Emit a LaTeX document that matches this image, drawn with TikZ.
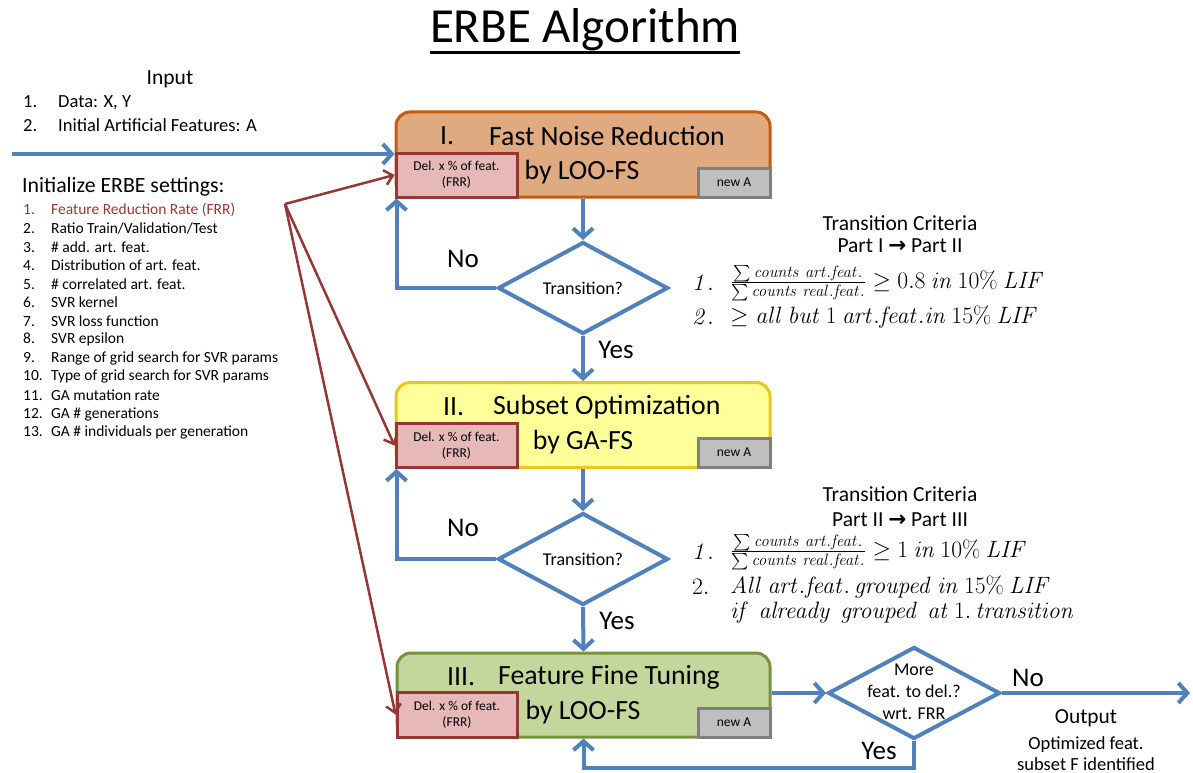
\documentclass[tikz,border=0pt]{standalone}
\usepackage{amsmath}
\usepackage[no-math]{fontspec}
\setmainfont{Carlito}
\newfontfamily\arrowfont{DejaVu Sans}
\usetikzlibrary{arrows.meta,shapes.geometric}
\definecolor{flowblue}{HTML}{4F81BD}
\definecolor{darkred}{HTML}{953735}
\definecolor{redfill}{HTML}{E6B9B8}
\definecolor{grayfill}{HTML}{BFBFBF}
\definecolor{grayborder}{HTML}{7F7F7F}
\definecolor{orfill}{HTML}{E0AA80}
\definecolor{orborder}{HTML}{C55A11}
\definecolor{yefill}{HTML}{FFFF99}
\definecolor{yeborder}{HTML}{E6C81E}
\definecolor{grfill}{HTML}{C3D69B}
\definecolor{grborder}{HTML}{77933C}
\newcommand\fsz[2]{\fontsize{#1}{#2}\selectfont}
\newcommand\deltext{\raisebox{-5pt}{\shortstack{Del. x \% of feat.\\[3.5pt](FRR)}}}
\tikzset{
  flow/.style={draw=flowblue, line width=4pt, -{Straight Barb[length=9pt,width=20pt]}},
  redarr/.style={draw=darkred, line width=2.5pt, -{Straight Barb[length=8pt,width=15pt]}},
  stage/.style={draw, line width=3pt, rounded corners=14pt, minimum width=374pt, minimum height=85pt, inner sep=0pt},
  delbox/.style={draw=darkred, fill=redfill, line width=3pt, minimum width=121pt, minimum height=44pt, inner sep=0pt, align=center, font=\fsz{13.5}{16}},
  newabox/.style={draw=grayborder, fill=grayfill, line width=3pt, minimum width=72pt, minimum height=29pt, inner sep=0pt, font=\fsz{13.5}{16}},
  decision/.style={diamond, aspect=1.85, draw=flowblue, line width=4pt, fill=white, inner sep=0pt, minimum width=170pt, minimum height=92pt},
  dtext/.style={inner sep=0pt, align=center, font=\fsz{18}{22}},
  boxtitle/.style={anchor=west, inner sep=0pt, font=\fsz{27.8}{30}},
  boxsub/.style={inner sep=0pt, font=\fsz{27.8}{30}},
  lbl/.style={inner sep=0pt, font=\fsz{27}{30}},
  listitem/.style={anchor=west, inner sep=0pt, font=\fsz{15.5}{18}},
  crit/.style={inner sep=0pt, font=\fsz{21.5}{24}},
  mathline/.style={anchor=west, inner sep=0pt, font=\fsz{20}{24}, scale=1.14}
}
\begin{document}
\begin{tikzpicture}[x=1pt,y=-1pt]
\useasboundingbox (0,0) rectangle (1193,773);

% title
\node[inner sep=0pt, font=\fsz{49}{52}] (title) at (585,30) {ERBE Algorithm};
\draw[line width=3pt] ([yshift=-1pt]title.south west) -- ([yshift=-1pt]title.south east);

% input
\node[inner sep=0pt, font=\fsz{21.5}{24}] (input) at (170,79) {Input};
\node[listitem, font=\fsz{18.5}{20}] (in1) at (23,103) {\makebox[35pt][l]{1.}Data: X, Y};
\node[listitem, font=\fsz{18.5}{20}] (in2) at (23,125) {\makebox[35pt][l]{2.}Initial Artificial Features: A};

% settings
\node[anchor=west, inner sep=0pt, font=\fsz{21.8}{24}] (init) at (22,187) {Initialize ERBE settings:};
\node[listitem, text=darkred] (s1) at (23,209.5) {\makebox[28pt][l]{1.}Feature Reduction Rate (FRR)};
\node[listitem] (s2) at (23,228.1) {\makebox[28pt][l]{2.}Ratio Train/Validation/Test};
\node[listitem] (s3) at (23,246.7) {\makebox[28pt][l]{3.}\# add. art. feat.};
\node[listitem] (s4) at (23,265.3) {\makebox[28pt][l]{4.}Distribution of art. feat.};
\node[listitem] (s5) at (23,283.9) {\makebox[28pt][l]{5.}\# correlated art. feat.};
\node[listitem] (s6) at (23,302.5) {\makebox[28pt][l]{6.}SVR kernel};
\node[listitem] (s7) at (23,321.1) {\makebox[28pt][l]{7.}SVR loss function};
\node[listitem] (s8) at (23,339.7) {\makebox[28pt][l]{8.}SVR epsilon};
\node[listitem] (s9) at (23,358.3) {\makebox[28pt][l]{9.}Range of grid search for SVR params};
\node[listitem] (s10) at (23,376.9) {\makebox[28pt][l]{10.}Type of grid search for SVR params};
\node[listitem] (s11) at (23,395.5) {\makebox[28pt][l]{11.}GA mutation rate};
\node[listitem] (s12) at (23,414.1) {\makebox[28pt][l]{12.}GA \# generations};
\node[listitem] (s13) at (23,432.7) {\makebox[28pt][l]{13.}GA \# individuals per generation};

% stage I
\node[stage, draw=orborder, fill=orfill] (boxI) at (583,154.5) {};
\node[boxtitle] (tI1) at (440,136) {I.};
\node[boxtitle] (tI2) at (489,136) {Fast Noise Reduction};
\node[boxsub] (tI3) at (582,172) {by LOO-FS};
\node[delbox] (redI) at (456.5,175) {\deltext};
\node[newabox] (newI) at (734,182.5) {new A};

% stage II
\node[stage, draw=yeborder, fill=yefill] (boxII) at (583,425) {};
\node[boxtitle] (tII1) at (443,407) {II.};
\node[boxtitle] (tII2) at (493,407) {Subset Optimization};
\node[boxsub] (tII3) at (583,442) {by GA-FS};
\node[delbox] (redII) at (456.5,445.5) {\deltext};
\node[newabox] (newII) at (734,452.5) {new A};

% stage III
\node[stage, draw=grborder, fill=grfill, minimum width=373pt, minimum height=84pt] (boxIII) at (583.5,695) {};
\node[boxtitle] (tIII1) at (447,677) {III.};
\node[boxtitle] (tIII2) at (498,677) {Feature Fine Tuning};
\node[boxsub] (tIII3) at (583,712) {by LOO-FS};
\node[delbox, minimum width=120pt, minimum height=45pt] (redIII) at (457,714.5) {\deltext};
\node[newabox] (newIII) at (734,722.5) {new A};

% decisions
\node[decision] (dI) at (583,288) {};
\node[dtext] (dIt) at (dI.center) {Transition?};
\node[decision] (dII) at (583,559) {};
\node[dtext] (dIIt) at (dII.center) {Transition?};
\node[decision, minimum width=172pt] (dIII) at (914,693) {};
\node[dtext] (dIIIt) at (914,692) {More\\feat. to del.?\\wrt. FRR};

% labels
\node[lbl] (noI) at (463,259) {No};
\node[lbl] (yesI) at (616,350) {Yes};
\node[lbl] (noII) at (463,528) {No};
\node[lbl] (yesII) at (617,621) {Yes};
\node[lbl] (noIII) at (1028,678) {No};
\node[lbl] (yesIII) at (879,751) {Yes};
\node[inner sep=0pt, font=\fsz{21.4}{24}] (outp) at (1086,718) {Output};
\node[inner sep=0pt, align=center, font=\fsz{18.5}{21}] (outtxt) at (1086,753.5) {Optimized feat.\\subset F identified};

% criteria I
\node[crit] (cI1) at (900,223) {Transition Criteria};
\node[crit] (cI2) at (900,246) {Part I {\arrowfont\bfseries →} Part II};
\node[mathline] (cI3n) at (692,283) {$\mathit{1.}$};
\node[mathline] (cI3) at (730,283) {$\frac{\sum \mathit{counts\ art.feat.}}{\sum \mathit{counts\ real.feat.}} \geq 0.8\ \mathit{in}\ 10\%\ \mathit{LIF}$};
\node[mathline] (cI4n) at (692,317) {$\mathit{2.}$};
\node[mathline] (cI4) at (730,317) {$\geq \mathit{all\ but}\ 1\ \mathit{art.feat.in}\ 15\%\ \mathit{LIF}$};

% criteria II
\node[crit] (cII1) at (900,494) {Transition Criteria};
\node[crit] (cII2) at (900,520) {Part II {\arrowfont\bfseries →} Part III};
\node[mathline] (cII3n) at (692,552) {$\mathit{1.}$};
\node[mathline] (cII3) at (730,552) {$\frac{\sum \mathit{counts\ art.feat.}}{\sum \mathit{counts\ real.feat.}} \geq 1\ \mathit{in}\ 10\%\ \mathit{LIF}$};
\node[mathline] (cII4n) at (692,587) {$2.$};
\node[mathline] (cII4) at (730,587) {$\mathit{All\ art.feat.\,grouped\ in}\ 15\%\ \mathit{LIF}$};
\node[mathline] (cII5) at (730,613) {$\mathit{if\,\ already\,\ grouped\,\ at}\ 1.\,\mathit{transition}$};

% connectors
\coordinate (start) at (12,154);
\coordinate (fanout) at (285,204);
\coordinate (outend) at (1190,693);
\coordinate (loopy) at (0,768);
\draw[flow] (start) -- (start -| boxI.west);
\draw[redarr] (fanout) -- (redI.west);
\draw[redarr] (fanout) -- (redII.west);
\draw[redarr] (fanout) -- (redIII.west);

\draw[flow] (boxI.south) -- (dI.north);
\draw[flow] (dI.west) -| ([xshift=2pt]redI.south west);
\draw[flow] (dI.south) -- (boxII.north);

\draw[flow] (boxII.south) -- (dII.north);
\draw[flow] (dII.west) -| ([xshift=2pt]redII.south west);
\draw[flow] (dII.south) -- (boxIII.north);

\draw[flow] (boxIII.east |- dIII.west) -- (dIII.west);
\draw[flow] (dIII.east) -- (outend);
\draw[flow] (dIII.south) -- (dIII.south |- loopy) -| (boxIII.south);
\end{tikzpicture}
\end{document}
